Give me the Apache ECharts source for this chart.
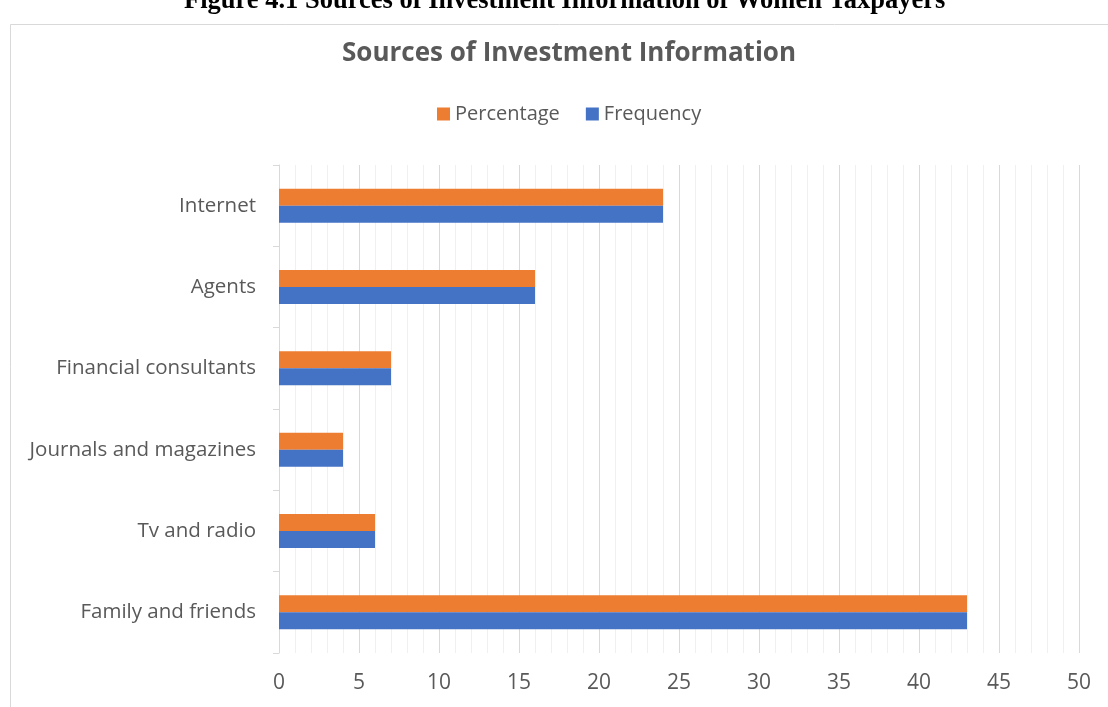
<!DOCTYPE html>
<html>
  <head>
    <meta charset="utf-8" />
    <title>Sources of Investment Information</title>
    <script src="https://cdn.jsdelivr.net/npm/echarts@6/dist/echarts.min.js"></script>
    <style>
      html, body { margin: 0; padding: 0; background: #fff; }
      #main { width: 1108px; height: 707px; }
    </style>
  </head>
  <body>
    <div id="main"></div>
    <script type="text/javascript">
// categories from bottom to top
let categories = ['Family and friends', 'Tv and radio', 'Journals and magazines', 'Financial consultants', 'Agents', 'Internet'];
let frequency = [43, 6, 4, 7, 16, 24];
let percentage = [43, 6, 4, 7, 16, 24];
let legendNames = ['Percentage', 'Frequency'];

var myChart = echarts.init(document.getElementById('main'));
var font = '"Open Sans", "Liberation Sans", sans-serif';

option = {
  backgroundColor: '#fff',
  textStyle: { fontFamily: font },
  graphic: [
    {
      type: 'text',
      left: 184,
      top: -12,
      style: {
        text: 'Figure 4.1 Sources of Investment Information of Women Taxpayers',
        font: 'bold 26.5px "Liberation Serif", serif',
        fill: '#000'
      }
    },
    {
      type: 'rect',
      shape: { x: 10.5, y: 24.5, width: 1110, height: 700 },
      style: { fill: 'none', stroke: '#d9d9d9', lineWidth: 1 }
    }
  ],
  title: {
    text: 'Sources of Investment Information',
    left: 337,
    top: 36,
    textStyle: { fontFamily: font, fontSize: 26, fontWeight: 'bold', color: '#595959' }
  },
  legend: {
    data: legendNames,
    top: 99,
    left: 432,
    icon: 'rect',
    itemWidth: 13,
    itemHeight: 13,
    itemGap: 26,
    textStyle: { fontFamily: font, fontSize: 20, color: '#595959' }
  },
  grid: { left: 279, right: 29, top: 165, bottom: 54, containLabel: false },
  xAxis: {
    type: 'value',
    min: 0,
    max: 50,
    interval: 5,
    axisLine: { show: false },
    axisTick: { show: false },
    axisLabel: { fontSize: 21, color: '#595959', margin: 20 },
    splitLine: { show: true, lineStyle: { color: '#d9d9d9', width: 1 } },
    minorSplitLine: { show: true, lineStyle: { color: '#f0f0f0', width: 1 } },
    minorTick: { show: false, splitNumber: 5 }
  },
  yAxis: {
    type: 'category',
    data: categories,
    axisLine: { show: true, lineStyle: { color: '#d9d9d9' } },
    axisTick: { show: true, length: 6, lineStyle: { color: '#d9d9d9' } },
    axisLabel: { fontSize: 20.5, color: '#595959', margin: 23 }
  },
  series: [
    {
      name: 'Percentage',
      type: 'bar',
      barWidth: 17,
      barGap: '0%',
      itemStyle: { color: '#ed7d31' },
      data: percentage
    },
    {
      name: 'Frequency',
      type: 'bar',
      barWidth: 17,
      barGap: '0%',
      itemStyle: { color: '#4472c4' },
      data: frequency
    }
  ]
};

myChart.setOption(option);
    </script>
  </body>
</html>
